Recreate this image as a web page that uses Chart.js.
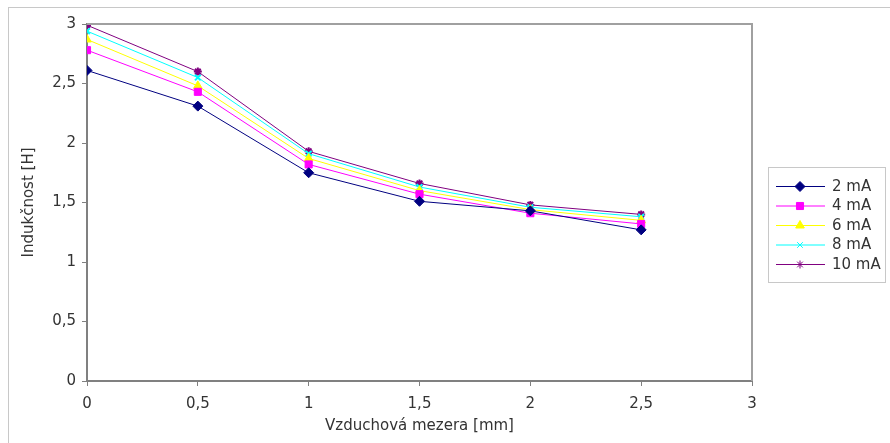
<!DOCTYPE html>
<html>
<head>
<meta charset="utf-8">
<script src="https://cdn.jsdelivr.net/npm/chart.js@4/dist/chart.umd.min.js"></script>
<style>
  html, body { margin: 0; padding: 0; background: #fff; }
  #wrap { width: 890px; height: 443px; }
</style>
</head>
<body>
<div id="wrap"><canvas id="graf"></canvas></div>
<script>
// Vzduchová mezera [mm]
const mezera = [0, 0.5, 1, 1.5, 2, 2.5];
const proudy = ['2 mA', '4 mA', '6 mA', '8 mA', '10 mA'];
// Indukčnost [H] pro jednotlivé proudy
const L2mA  = [2.61, 2.31, 1.75, 1.51, 1.43, 1.27];
const L4mA  = [2.78, 2.43, 1.82, 1.57, 1.41, 1.32];
const L6mA  = [2.87, 2.48, 1.87, 1.60, 1.44, 1.35];
const L8mA  = [2.94, 2.55, 1.91, 1.63, 1.46, 1.38];
const L10mA = [2.99, 2.60, 1.93, 1.66, 1.48, 1.40];

const barvy = ['#000080', '#ff00ff', '#ffff00', '#00ffff', '#800080'];
const znacky = ['rectRot', 'rect', 'triangle', 'crossRot', 'star'];
const velikosti = [5, 5, 5, 4, 4];
const hodnoty = [L2mA, L4mA, L6mA, L8mA, L10mA];

const fontTxt = { family: 'DejaVu Sans', size: 15 };
const carky = v => String(v).replace('.', ',');

// ramecek okolo grafu, okolo plochy a vlastni legenda
const ramecky = {
  id: 'ramecky',
  afterDraw(chart) {
    const ctx = chart.ctx;
    const a = chart.chartArea;
    ctx.save();
    ctx.strokeStyle = '#c8c8c8';
    ctx.lineWidth = 1;
    ctx.strokeRect(8.5, 7.5, 900, 460);
    ctx.strokeStyle = '#a0a0a0';
    ctx.lineWidth = 2;
    ctx.beginPath();
    ctx.moveTo(a.left, a.top);
    ctx.lineTo(a.right, a.top);
    ctx.lineTo(a.right, a.bottom);
    ctx.stroke();

    // legenda
    ctx.strokeStyle = '#c8c8c8';
    ctx.lineWidth = 1;
    ctx.strokeRect(768.5, 167.5, 117, 115);
    ctx.font = '15px "DejaVu Sans"';
    ctx.textBaseline = 'middle';
    ctx.textAlign = 'left';
    chart.data.datasets.forEach((ds, i) => {
      const y = 186 + i * 19.5;
      ctx.strokeStyle = ds.borderColor;
      ctx.lineWidth = 1;
      ctx.beginPath();
      ctx.moveTo(776, y + 0.5);
      ctx.lineTo(825, y + 0.5);
      ctx.stroke();
      ctx.fillStyle = ds.pointBackgroundColor;
      ctx.strokeStyle = ds.pointBorderColor;
      Chart.helpers.drawPoint(ctx, {
        pointStyle: ds.pointStyle, radius: ds.pointRadius, borderWidth: ds.pointBorderWidth, rotation: 0
      }, 800, y + 0.5);
      ctx.fillStyle = '#333';
      ctx.fillText(ds.label, 832, y + 1);
    });
    ctx.restore();
  }
};

const datasets = proudy.map((p, i) => ({
  label: p,
  data: mezera.map((x, j) => ({ x: x, y: hodnoty[i][j] })),
  borderColor: barvy[i],
  backgroundColor: barvy[i],
  borderWidth: 1,
  pointStyle: znacky[i],
  pointRadius: velikosti[i],
  pointBackgroundColor: barvy[i],
  pointBorderColor: barvy[i],
  pointBorderWidth: (znacky[i] === 'crossRot' || znacky[i] === 'star') ? 2 : 1,
  tension: 0
}));

new Chart(document.getElementById('graf'), {
  type: 'line',
  data: { datasets: datasets },
  options: {
    responsive: true,
    maintainAspectRatio: false,
    animation: false,
    layout: { padding: { top: 24, right: 138, bottom: 0, left: 0 } },
    plugins: {
      legend: { display: false },
      tooltip: { enabled: false }
    },
    scales: {
      x: {
        type: 'linear',
        min: 0, max: 3,
        afterFit: s => { s.height = 62; },
        ticks: { stepSize: 0.5, color: '#333', font: fontTxt, padding: 9, callback: carky },
        grid: { drawOnChartArea: false, drawTicks: true, tickLength: 5, color: '#808080' },
        border: { color: '#808080', width: 2 },
        title: { display: true, text: 'Vzduchová mezera [mm]', color: '#333', font: fontTxt, padding: { top: 0, bottom: 8 } }
      },
      y: {
        min: 0, max: 3,
        afterFit: s => { s.width = 87; },
        ticks: { stepSize: 0.5, color: '#333', font: fontTxt, padding: 6, callback: carky },
        grid: { drawOnChartArea: false, drawTicks: true, tickLength: 5, color: '#808080' },
        border: { color: '#808080', width: 2 },
        title: { display: true, text: 'Indukčnost [H]', color: '#333', font: fontTxt, padding: { top: 20, bottom: 0 } }
      }
    }
  },
  plugins: [ramecky]
});
</script>
</body>
</html>
